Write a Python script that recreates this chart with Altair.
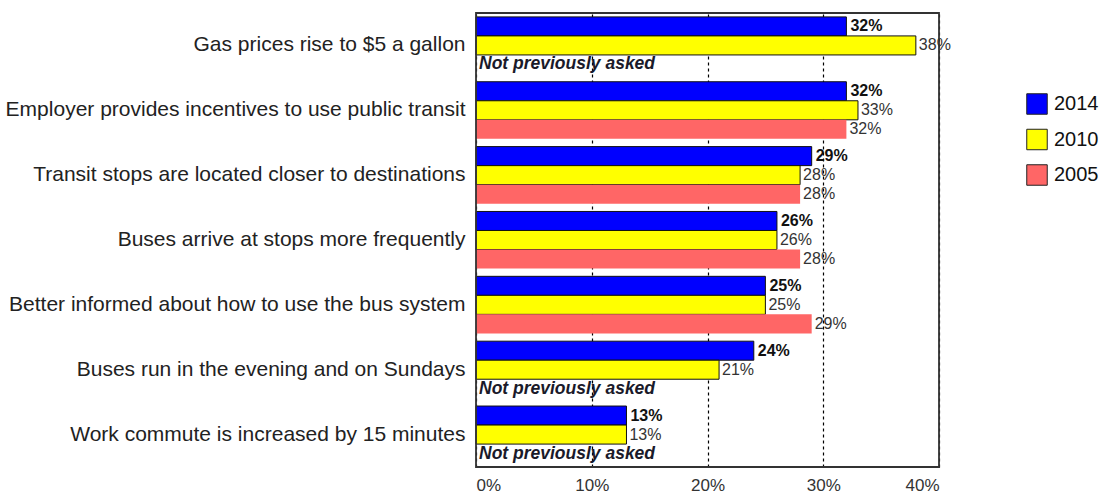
import altair as alt
import pandas as pd

# Survey items, top to bottom
categories = [
    "Gas prices rise to $5 a gallon",
    "Employer provides incentives to use public transit",
    "Transit stops are located closer to destinations",
    "Buses arrive at stops more frequently",
    "Better informed about how to use the bus system",
    "Buses run in the evening and on Sundays",
    "Work commute is increased by 15 minutes",
]
years = ["2014", "2010", "2005"]
colors = ["#0000FF", "#FFFF00", "#FF6666"]

# Percent of respondents per survey year (None = item not asked that year)
v2014 = [32, 32, 29, 26, 25, 24, 13]
v2010 = [38, 33, 28, 26, 25, 21, 13]
v2005 = [None, 32, 28, 28, 29, None, None]

x_ticks = [0, 10, 20, 30, 40]
missing_note = "Not previously asked"

rows = []
for i, cat in enumerate(categories):
    for yr, vals in zip(years, [v2014, v2010, v2005]):
        v = vals[i]
        rows.append({
            "item": cat,
            "year": yr,
            "value": v,
            "label": (f"{v}%" if v is not None else missing_note),
            "asked": v is not None,
        })
df = pd.DataFrame(rows)

FONT = "Liberation Sans"
W, H = 463, 454

y_enc = alt.Y(
    "item:N",
    sort=categories,
    scale=alt.Scale(paddingInner=0.12, paddingOuter=0.06),
    axis=alt.Axis(
        title=None, ticks=False, domain=False, labelFontSize=21,
        labelColor="#222222", labelPadding=11, labelLimit=700, labelFont=FONT,
    ),
)
yoff = alt.YOffset("year:N", sort=years, scale=alt.Scale(domain=years, paddingInner=0, paddingOuter=0))
x_scale = alt.Scale(domain=[0, 40], nice=False)

base = alt.Chart(df).encode(y=y_enc, yOffset=yoff)

bars = base.transform_filter("datum.asked").mark_bar(stroke="#111111", strokeWidth=1).encode(
    x=alt.X(
        "value:Q",
        scale=x_scale,
        axis=alt.Axis(
            title=None, values=x_ticks, labelExpr="datum.value + '%'", labelFontSize=17,
            labelColor="#333333", labelFont=FONT, ticks=False, domain=False, labelPadding=10,
            labelBaseline="top", grid=True, gridDash=[3, 3], gridColor="#000000", gridWidth=1.2,
        ),
    ),
    color=alt.Color(
        "year:N",
        sort=years,
        scale=alt.Scale(domain=years, range=colors),
        legend=alt.Legend(
            title=None, orient="none", legendX=550, legendY=80, symbolType="square",
            symbolSize=420, symbolStrokeColor="#222222", symbolStrokeWidth=1,
            labelFontSize=20, labelFont=FONT, labelColor="#111111", rowPadding=9.5,
            symbolOffset=0, labelOffset=6,
        ),
    ),
    strokeOpacity=alt.condition("datum.year == '2005'", alt.value(0), alt.value(1)),
)

labels_bold = base.transform_filter("datum.asked && datum.year == '2014'").mark_text(
    align="left", baseline="middle", dx=4, fontSize=16, fontWeight="bold", font=FONT, color="#111111"
).encode(x=alt.X("value:Q", scale=x_scale), text="label:N")

labels_plain = base.transform_filter("datum.asked && datum.year != '2014'").mark_text(
    align="left", baseline="middle", dx=3, fontSize=16, font=FONT, color="#333333"
).encode(x=alt.X("value:Q", scale=x_scale), text="label:N")

notes = base.transform_filter("!datum.asked").mark_text(
    align="left", baseline="middle", dx=3, fontSize=17.5, fontWeight="bold", fontStyle="italic",
    font=FONT, color="#1a1a2a"
).encode(x=alt.value(0), text="label:N")

# Plot-area frame
frame = alt.Chart(pd.DataFrame({"k": [0]})).mark_rect(
    fill=None, stroke="#333333", strokeWidth=1.8
).encode(x=alt.value(0), x2=alt.value(W), y=alt.value(0), y2=alt.value(H))

chart = alt.layer(bars, labels_bold, labels_plain, notes, frame).properties(
    width=W, height=H, padding={"top": 12, "left": 5, "right": 5, "bottom": 0},
).configure_view(stroke=None).configure(background="white")

chart.save("out.html", embed_options={"renderer": "svg", "actions": False})
